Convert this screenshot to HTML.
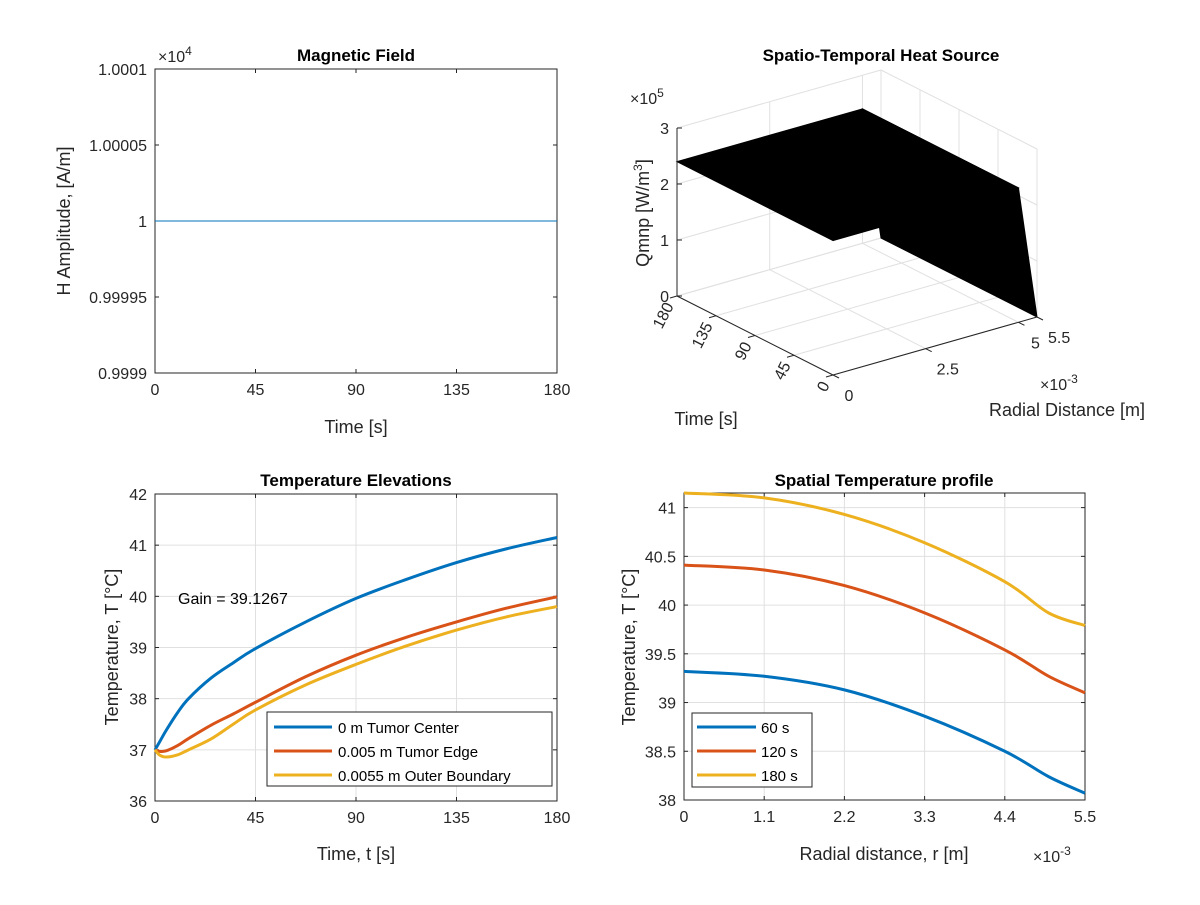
<!DOCTYPE html>
<html><head><meta charset="utf-8"><style>
body{margin:0;background:#fff}
svg{font-family:"Liberation Sans",sans-serif}
text{fill:#262626}
.t{font-weight:bold;font-size:17px;fill:#000}
.k{font-size:16px}
.g{stroke:#e0e0e0;stroke-width:1}
</style></head><body>
<svg id="s" width="1200" height="900" xmlns="http://www.w3.org/2000/svg">
<rect width="1200" height="900" fill="#fff"/>
<g id="p1"></g>
<g id="p2"></g>
<g id="p3"></g>
<g id="p4"></g>
</svg>
<script>
const NS="http://www.w3.org/2000/svg";
function el(p,tag,a,txt){const e=document.createElementNS(NS,tag);for(const k in a)e.setAttribute(k,a[k]);if(txt!==undefined)e.textContent=txt;p.appendChild(e);return e;}

// ---- data ----
const hTimes=[0,180];
const hValues=[10000,10000];
const hTicks=[0.9999,0.99995,1,1.00005,1.0001];
const hTickLabels=["0.9999","0.99995","1","1.00005","1.0001"];
const tTicks=[0,45,90,135,180];

const qTimes=[0,180];
const qRadii=[0,0.005,0.0055];
const qValues=[[2.4,2.4,0],[2.4,2.4,0]];
const zTicks=[0,1,2,3];
const rTicks=[0,0.0025,0.005,0.0055];
const rTickLabels=["0","2.5","5","5.5"];

const elevTimes=[0,2,5,10,15,25,35,45,67.5,90,112.5,135,157.5,180];
const elevCenter=[37,37.15,37.38,37.72,38.0,38.40,38.70,38.98,39.5,39.96,40.33,40.66,40.93,41.15];
const elevEdge=[37,36.97,36.98,37.08,37.22,37.48,37.70,37.93,38.43,38.85,39.2,39.5,39.77,39.99];
const elevOuter=[37,36.9,36.86,36.9,37.0,37.21,37.50,37.78,38.27,38.67,39.03,39.34,39.6,39.8];
const elevTicks=[36,37,38,39,40,41,42];
const elevLabels=["0 m Tumor Center","0.005 m Tumor Edge","0.0055 m Outer Boundary"];

const profR=[0,0.0011,0.0022,0.0033,0.0044,0.005,0.0055];
const prof60=[39.32,39.27,39.13,38.86,38.50,38.24,38.07];
const prof120=[40.41,40.36,40.20,39.92,39.54,39.27,39.10];
const prof180=[41.15,41.10,40.93,40.64,40.24,39.92,39.79];
const profTicks=[38,38.5,39,39.5,40,40.5,41];
const profXTicks=[0,0.0011,0.0022,0.0033,0.0044,0.0055];
const profXLabels=["0","1.1","2.2","3.3","4.4","5.5"];
const profLabels=["60 s","120 s","180 s"];

const C=["#0072BD","#D95319","#EDB120"];

function smooth(pts){let d="M"+pts[0][0]+","+pts[0][1];for(let i=0;i<pts.length-1;i++){const p0=pts[Math.max(0,i-1)],p1=pts[i],p2=pts[i+1],p3=pts[Math.min(pts.length-1,i+2)];
const c1=[p1[0]+(p2[0]-p0[0])/6,p1[1]+(p2[1]-p0[1])/6],c2=[p2[0]-(p3[0]-p1[0])/6,p2[1]-(p3[1]-p1[1])/6];
d+=" C"+c1+" "+c2+" "+p2;}return d;}

function axes2d(g,x0,x1,y0,y1,xt,xl,yt,yl,sx,sy,grid){
  if(grid){xt.forEach(v=>{const l=el(g,"line",{x1:sx(v),x2:sx(v),y1:y0,y2:y1,class:"g"});});
  yt.forEach(v=>{const l=el(g,"line",{x1:x0,x2:x1,y1:sy(v),y2:sy(v),class:"g"});});}
  const b=el(g,"rect",{x:x0,y:y0,width:x1-x0,height:y1-y0,fill:"none",stroke:"#262626","stroke-width":1});
  
  xt.forEach((v,i)=>{const x=sx(v);el(g,"line",{x1:x,x2:x,y1:y1,y2:y1-4,stroke:"#262626"});el(g,"line",{x1:x,x2:x,y1:y0,y2:y0+4,stroke:"#262626"});
    const t=el(g,"text",{x:x,y:y1+22,"text-anchor":"middle",class:"k"},xl[i]);});
  yt.forEach((v,i)=>{const y=sy(v);el(g,"line",{x1:x0,x2:x0+4,y1:y,y2:y,stroke:"#262626"});el(g,"line",{x1:x1,x2:x1-4,y1:y,y2:y,stroke:"#262626"});
    const t=el(g,"text",{x:x0-8,y:y+6,"text-anchor":"end",class:"k"},yl[i]);});
}
function label(g,x,y,txt,name,rot,cls){const a={x:x,y:y,"text-anchor":"middle"};if(cls)a.class=cls;else a.style="font-size:18px";if(rot)a.transform="rotate(-90 "+x+" "+y+")";const t=el(g,"text",a,txt);return t;}

// ---- plot 1 ----
(function(){const g=document.getElementById("p1");const X0=155,X1=557,Y0=69,Y1=373;
const sx=v=>X0+(v-0)/180*(X1-X0),sy=v=>Y1-(v-0.9999)/0.0002*(Y1-Y0);
axes2d(g,X0,X1,Y0,Y1,tTicks,tTicks.map(String),hTicks,hTickLabels,sx,sy,false);
const l=el(g,"polyline",{points:hTimes.map((t,i)=>sx(t)+","+sy(hValues[i]/1e4)).join(" "),fill:"none",stroke:C[0],"stroke-width":1});

const m=el(g,"text",{x:158,y:62,class:"k"});m.innerHTML='×10<tspan dy="-7" font-size="12">4</tspan>';
label(g,356,61,"Magnetic Field","title",false,"t");
label(g,356,433,"Time [s]","x-axis-title");
label(g,70,221,"H Amplitude, [A/m]","y-axis-title",true);
})();

// ---- plot 2 (3D) ----
(function(){const g=document.getElementById("p2");
const F=[833,375],L=[677,296],R=[1037,317],ZS=56;
const P=(t,r,z)=>{const a=t/180,b=r/0.0055;return [F[0]+a*(L[0]-F[0])+b*(R[0]-F[0]),F[1]+a*(L[1]-F[1])+b*(R[1]-F[1])-z*ZS];};
const ln=(p,q,cls,name)=>{const o={x1:p[0],y1:p[1],x2:q[0],y2:q[1]};if(cls)o.class=cls;else o.stroke="#262626";const e=el(g,"line",o);return e;};
zTicks.forEach(z=>{ln(P(180,0,z),P(180,0.0055,z),"g","back-wall-grid");ln(P(180,0.0055,z),P(0,0.0055,z),"g","side-wall-grid");});
rTicks.forEach(r=>{ln(P(180,r,0),P(180,r,3),"g","back-wall-grid");ln(P(180,r,0),P(0,r,0),"g","floor-grid");});
tTicks.forEach(t=>{ln(P(t,0.0055,0),P(t,0.0055,3),"g","side-wall-grid");ln(P(t,0,0),P(t,0.0055,0),"g","floor-grid");});
for(let j=qRadii.length-2;j>=0;j--)for(let i=qTimes.length-2;i>=0;i--){
 const pts=[P(qTimes[i],qRadii[j],qValues[i][j]),P(qTimes[i+1],qRadii[j],qValues[i+1][j]),P(qTimes[i+1],qRadii[j+1],qValues[i+1][j+1]),P(qTimes[i],qRadii[j+1],qValues[i][j+1])];
 const s=el(g,"polygon",{points:pts.map(p=>p.join(",")).join(" "),fill:"#000",stroke:"#000","stroke-width":1});
 }
ln(P(180,0,0),P(180,0,3),null,"z-axis");ln(P(180,0,0),P(0,0,0),null,"time-axis");ln(P(0,0,0),P(0,0.0055,0),null,"radial-axis");
zTicks.forEach(z=>{const p=P(180,0,z);ln(p,[p[0]+5,p[1]],null,"z-tick");const t=el(g,"text",{x:p[0]-8,y:p[1]+6,"text-anchor":"end",class:"k"},String(z));});
tTicks.forEach(v=>{const p=P(v,0,0);ln(p,[p[0]-7,p[1]+2],null,"time-tick");const tx=p[0]-3,ty=p[1]+10;const t=el(g,"text",{x:tx,y:ty,"text-anchor":"end",class:"k",transform:"rotate(-63 "+tx+" "+ty+")"},String(v));});
rTicks.forEach((v,i)=>{const p=P(0,v,0);ln(p,[p[0]+6,p[1]+3],null,"radial-tick");const t=el(g,"text",{x:p[0]+(i==3?11:i==2?17:i==1?22:16),y:p[1]+26,"text-anchor":i==3?"start":"middle",class:"k"},rTickLabels[i]);});
const m=el(g,"text",{x:630,y:104,class:"k"});m.innerHTML='×10<tspan dy="-7" font-size="12">5</tspan>';
const m2=el(g,"text",{x:1040,y:390,class:"k"});m2.innerHTML='×10<tspan dy="-7" font-size="12">-3</tspan>';
label(g,881,61,"Spatio-Temporal Heat Source","title",false,"t");
const zt=el(g,"text",{x:649,y:213,"text-anchor":"middle",style:"font-size:18px",transform:"rotate(-90 649 213)"});zt.innerHTML='Qmnp [W/m<tspan dy="-7" font-size="12">3</tspan><tspan dy="7">]</tspan>';
label(g,706,425,"Time [s]","time-axis-title");
label(g,1067,416,"Radial Distance [m]","radial-axis-title");
})();

// ---- plot 3 ----
(function(){const g=document.getElementById("p3");const X0=155,X1=557,Y0=494,Y1=801;
const sx=v=>X0+v/180*(X1-X0),sy=v=>Y1-(v-36)/6*(Y1-Y0);
axes2d(g,X0,X1,Y0,Y1,tTicks,tTicks.map(String),elevTicks,elevTicks.map(String),sx,sy,true);
[elevCenter,elevEdge,elevOuter].forEach((s,k)=>{const p=el(g,"path",{d:smooth(elevTimes.map((t,i)=>[sx(t),sy(s[i])])),fill:"none",stroke:C[k],"stroke-width":3});
});
const a=el(g,"text",{x:178,y:604,style:"font-size:16px;fill:#000"},"Gain = 39.1267");
const lg=el(g,"g",{});
el(lg,"rect",{x:267,y:712,width:285,height:74,fill:"#fff",stroke:"#262626"});
elevLabels.forEach((s,k)=>{const y=727+k*24;el(lg,"line",{x1:274,x2:332,y1:y,y2:y,stroke:C[k],"stroke-width":3});
const t=el(lg,"text",{x:338,y:y+6,style:"font-size:15px;fill:#000"},s);});
label(g,356,486,"Temperature Elevations","title",false,"t");
label(g,356,860,"Time, t [s]","x-axis-title");
label(g,118,647,"Temperature, T [°C]","y-axis-title",true);
})();

// ---- plot 4 ----
(function(){const g=document.getElementById("p4");const X0=684,X1=1085,Y0=493,Y1=800;
const sx=v=>X0+v/0.0055*(X1-X0),sy=v=>Y1-(v-38)/3.15*(Y1-Y0);
axes2d(g,X0,X1,Y0,Y1,profXTicks,profXLabels,profTicks,profTicks.map(String),sx,sy,true);
[prof60,prof120,prof180].forEach((s,k)=>{const p=el(g,"path",{d:smooth(profR.map((r,i)=>[sx(r),sy(s[i])])),fill:"none",stroke:C[k],"stroke-width":3});
});
const lg=el(g,"g",{});
el(lg,"rect",{x:692,y:713,width:120,height:74,fill:"#fff",stroke:"#262626"});
profLabels.forEach((s,k)=>{const y=727+k*24;el(lg,"line",{x1:697,x2:756,y1:y,y2:y,stroke:C[k],"stroke-width":3});
const t=el(lg,"text",{x:761,y:y+6,style:"font-size:15px;fill:#000"},s);});
const m=el(g,"text",{x:1033,y:862,class:"k"});m.innerHTML='×10<tspan dy="-7" font-size="12">-3</tspan>';
label(g,884,486,"Spatial Temperature profile","title",false,"t");
label(g,884,860,"Radial distance, r [m]","x-axis-title");
label(g,635,647,"Temperature, T [°C]","y-axis-title",true);
})();
</script>
</body></html>
